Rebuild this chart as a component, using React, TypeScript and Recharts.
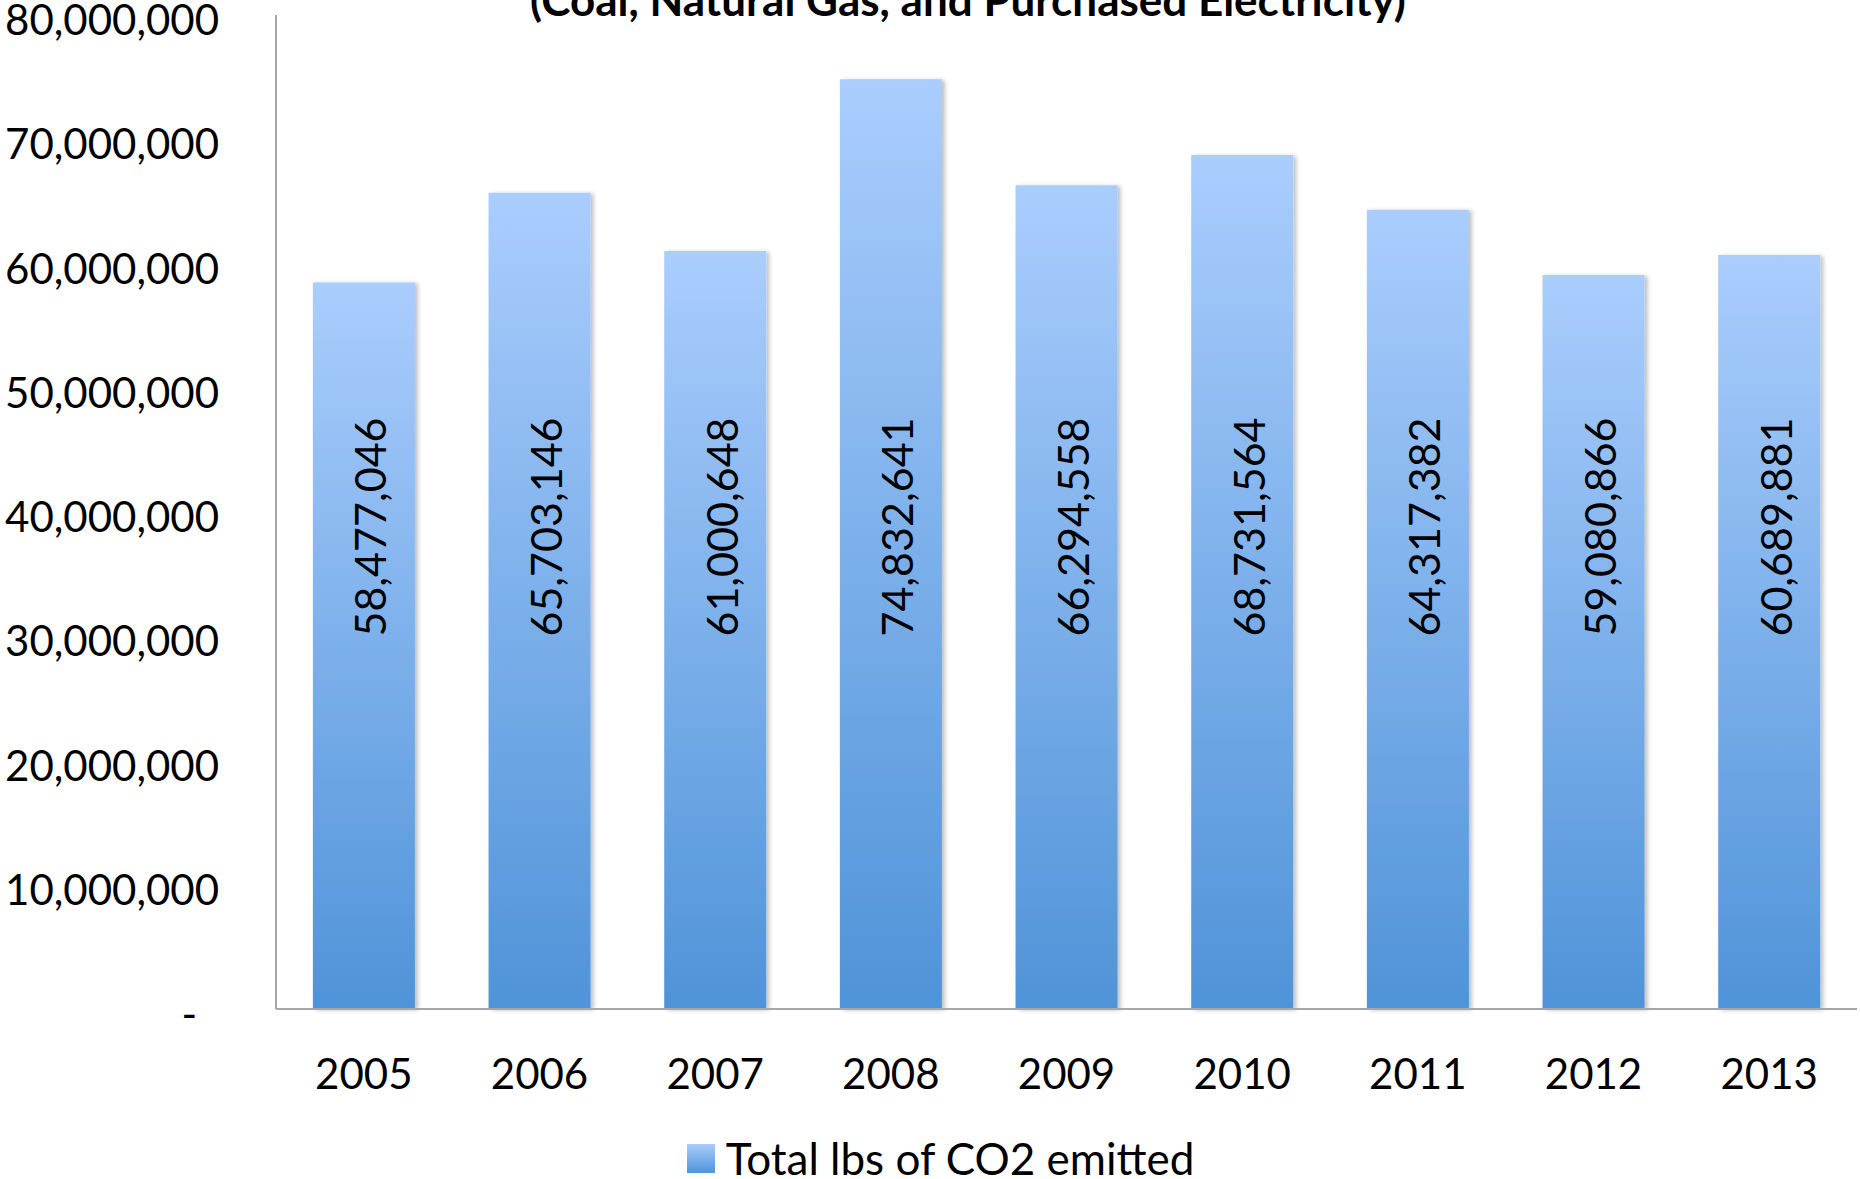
import React from 'react';
import { BarChart, Bar, XAxis, YAxis, Legend, LabelList } from 'recharts';

const years = ['2005', '2006', '2007', '2008', '2009', '2010', '2011', '2012', '2013'];
const totals = [58477046, 65703146, 61000648, 74832641, 66294558, 68731564, 64317382, 59080866, 60689881];
const yTicks = [0, 10000000, 20000000, 30000000, 40000000, 50000000, 60000000, 70000000, 80000000];
const seriesName = 'Total lbs of CO2 emitted';
const subtitle = '(Coal, Natural Gas, and Purchased Electricity)';

const data = years.map((year, i) => ({ year, total: totals[i] }));

const FONT = 'Lato, "Open Sans", sans-serif';
const fmt = (v: number) => v.toLocaleString('en-US');

const YTick = (props: any) => {
  const { x, y, payload } = props;
  const zero = payload.value === 0;
  return (
    <text
      x={zero ? x - 22 : x}
      y={y + 4}
      textAnchor="end"
      dominantBaseline="central"
      fontFamily={FONT}
      fontSize={42}
      fill="#000"
    >
      {zero ? '-' : fmt(payload.value)}
    </text>
  );
};

const ValueLabel = (props: any) => {
  const { x, width, y, height, value } = props;
  const cx = x + width / 2 + 6;
  const cy = y + height - 482;
  return (
    <text
      x={cx}
      y={cy}
      transform={`rotate(-90, ${cx}, ${cy})`}
      textAnchor="middle"
      dominantBaseline="central"
      fontFamily={FONT}
      fontSize={43}
      fill="#000"
    >
      {fmt(value)}
    </text>
  );
};

const LegendContent = () => (
  <div
    style={{
      display: 'flex',
      justifyContent: 'center',
      alignItems: 'center',
      height: 38,
      paddingLeft: 24,
      fontFamily: FONT,
      fontSize: 44,
      color: '#000',
    }}
  >
    <div
      style={{
        width: 28,
        height: 29,
        marginRight: 11,
        background: 'linear-gradient(#aacdfd, #4f93d8)',
      }}
    />
    <span>{seriesName}</span>
  </div>
);

export default function App() {
  return (
    <div style={{ position: 'absolute', left: 0, top: 0, width: 1860, height: 1179, background: '#fff' }}>
      <BarChart
        width={1860}
        height={1179}
        data={data}
        margin={{ top: 15, right: 3, bottom: 0, left: 0 }}
        barCategoryGap="21%"
      >
        <defs>
          <linearGradient id="barFill" x1="0" y1="0" x2="0" y2="1">
            <stop offset="0%" stopColor="#aacdfd" />
            <stop offset="100%" stopColor="#4f93d8" />
          </linearGradient>
          <filter id="barShadow" x="-10%" y="-5%" width="130%" height="110%">
            <feDropShadow dx="3" dy="1" stdDeviation="2" floodColor="#000" floodOpacity="0.25" />
          </filter>
        </defs>
        <XAxis
          dataKey="year"
          height={130}
          axisLine={{ stroke: '#a6a6a6', strokeWidth: 2 }}
          tickLine={false}
          tickSize={0}
          tickMargin={50}
          tick={{ fontFamily: FONT, fontSize: 42, fill: '#000' }}
        />
        <YAxis
          width={276}
          domain={[0, 80000000]}
          ticks={yTicks}
          interval={0}
          axisLine={{ stroke: '#a6a6a6', strokeWidth: 2 }}
          tickLine={false}
          tickSize={0}
          tickMargin={57}
          tick={<YTick />}
        />
        <Legend verticalAlign="bottom" height={40} content={<LegendContent />} />
        <Bar
          dataKey="total"
          name={seriesName}
          fill="url(#barFill)"
          filter="url(#barShadow)"
          isAnimationActive={false}
        >
          <LabelList dataKey="total" content={<ValueLabel />} />
        </Bar>
      </BarChart>
      <svg
        width={1860}
        height={40}
        style={{ position: 'absolute', left: 0, top: 0, pointerEvents: 'none' }}
      >
        <text x={968} y={16} textAnchor="middle" fontFamily={FONT} fontWeight="bold" fontSize={44} fill="#000">
          {subtitle}
        </text>
      </svg>
    </div>
  );
}
